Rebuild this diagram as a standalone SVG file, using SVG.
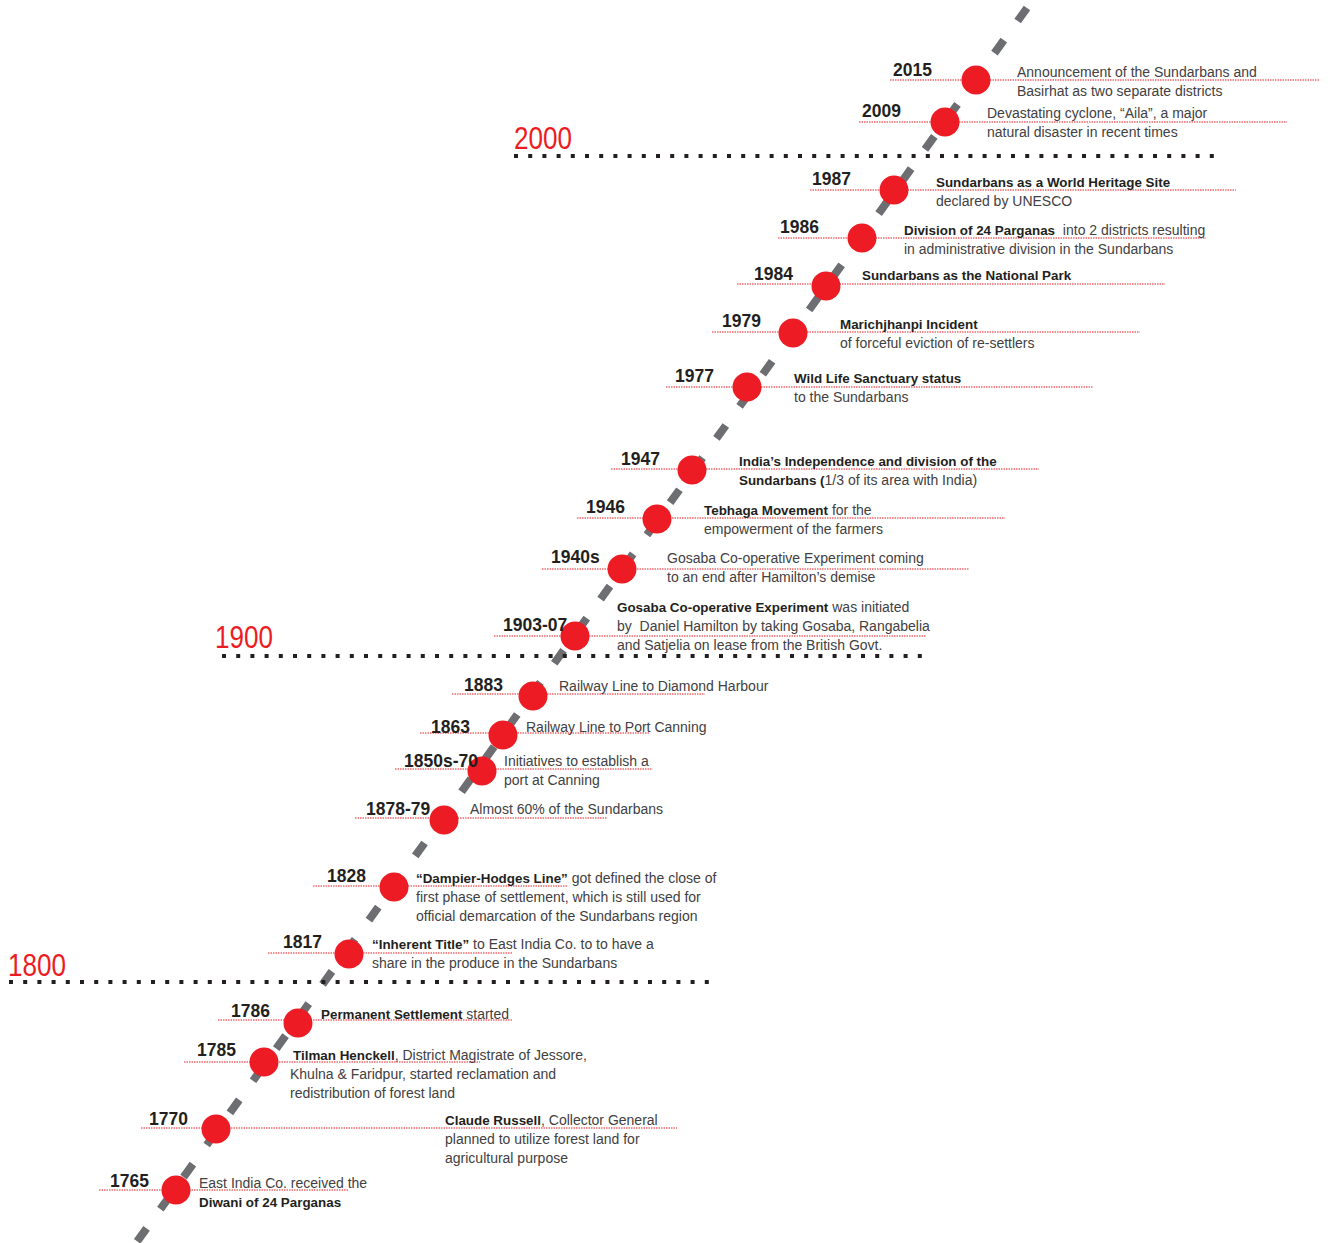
<svg xmlns="http://www.w3.org/2000/svg" width="1328" height="1243" viewBox="0 0 1328 1243">
<style>
.bg{fill:#ffffff}
.spine{stroke:#6d6e71;stroke-width:8;stroke-dasharray:16 23.6;fill:none}
.lead{stroke:#ed1c24;stroke-width:1;stroke-dasharray:1.5 1;fill:none}
.dot{fill:#ed1c24}
.era{font-family:"Liberation Sans",Arial,sans-serif;font-size:31px;fill:#ed1c24}
.divider{stroke:#231f20;stroke-width:4;stroke-dasharray:4 10.2;fill:none}
.yr{font-family:"Liberation Sans",Arial,sans-serif;font-size:17.5px;font-weight:bold;fill:#231f20}
.tx{font-family:"Liberation Sans",Arial,sans-serif;font-size:14px;fill:#414042}
.b{font-weight:bold;font-size:13.4px;fill:#231f20}
</style>
<rect class="bg" x="0" y="0" width="1328" height="1243"/>

<g id="connectors">
<line class="spine" x1="1027" y1="8" x2="136" y2="1243"/>
</g>

<g id="era-2000">
<text class="era" x="514" y="149" textLength="58" lengthAdjust="spacingAndGlyphs">2000</text>
<line class="divider" x1="514" y1="156" x2="1215" y2="156"/>
</g>
<g id="era-1900">
<text class="era" x="215" y="648" textLength="58" lengthAdjust="spacingAndGlyphs">1900</text>
<line class="divider" x1="222" y1="656" x2="922" y2="656"/>
</g>
<g id="era-1800">
<text class="era" x="8" y="976" textLength="58" lengthAdjust="spacingAndGlyphs">1800</text>
<line class="divider" x1="9" y1="982" x2="710" y2="982"/>
</g>

<g id="ev-2015">
<line class="lead" x1="890" y1="80" x2="1319" y2="80"/>
<circle class="dot" cx="976" cy="80" r="14.5"/>
<text class="yr" x="893" y="76">2015</text>
<text class="tx" x="1017" y="77">Announcement of the Sundarbans and</text>
<text class="tx" x="1017" y="96">Basirhat as two separate districts</text>
</g>

<g id="ev-2009">
<line class="lead" x1="859" y1="122" x2="1287" y2="122"/>
<circle class="dot" cx="945" cy="122" r="14.5"/>
<text class="yr" x="862" y="117">2009</text>
<text class="tx" x="987" y="118">Devastating cyclone, “Aila”, a major</text>
<text class="tx" x="987" y="137">natural disaster in recent times</text>
</g>

<g id="ev-1987">
<line class="lead" x1="810" y1="190" x2="1236" y2="190"/>
<circle class="dot" cx="894" cy="190" r="14.5"/>
<text class="yr" x="812" y="185">1987</text>
<text class="tx" x="936" y="187"><tspan class="b">Sundarbans as a World Heritage Site</tspan></text>
<text class="tx" x="936" y="206">declared by UNESCO</text>
</g>

<g id="ev-1986">
<line class="lead" x1="778" y1="238" x2="1206" y2="238"/>
<circle class="dot" cx="862" cy="238" r="14.5"/>
<text class="yr" x="780" y="233">1986</text>
<text class="tx" x="904" y="235" xml:space="preserve"><tspan class="b">Division of 24 Parganas</tspan>  into 2 districts resulting</text>
<text class="tx" x="904" y="254">in administrative division in the Sundarbans</text>
</g>

<g id="ev-1984">
<line class="lead" x1="737" y1="284" x2="1165" y2="284"/>
<circle class="dot" cx="826" cy="286" r="14.5"/>
<text class="yr" x="754" y="280">1984</text>
<text class="tx" x="862" y="280"><tspan class="b">Sundarbans as the National Park</tspan></text>
</g>

<g id="ev-1979">
<line class="lead" x1="712" y1="332" x2="1140" y2="332"/>
<circle class="dot" cx="793" cy="333" r="14.5"/>
<text class="yr" x="722" y="327">1979</text>
<text class="tx" x="840" y="329"><tspan class="b">Marichjhanpi Incident</tspan></text>
<text class="tx" x="840" y="348">of forceful eviction of re-settlers</text>
</g>

<g id="ev-1977">
<line class="lead" x1="666" y1="387" x2="1093" y2="387"/>
<circle class="dot" cx="747" cy="387" r="14.5"/>
<text class="yr" x="675" y="382">1977</text>
<text class="tx" x="794" y="383"><tspan class="b">Wild Life Sanctuary status</tspan></text>
<text class="tx" x="794" y="402">to the Sundarbans</text>
</g>

<g id="ev-1947">
<line class="lead" x1="611" y1="469" x2="1039" y2="469"/>
<circle class="dot" cx="692" cy="470" r="14.5"/>
<text class="yr" x="621" y="465">1947</text>
<text class="tx" x="739" y="466"><tspan class="b">India’s Independence and division of the</tspan></text>
<text class="tx" x="739" y="485"><tspan class="b">Sundarbans (</tspan>1/3 of its area with India)</text>
</g>

<g id="ev-1946">
<line class="lead" x1="577" y1="518" x2="1005" y2="518"/>
<circle class="dot" cx="657" cy="519" r="14.5"/>
<text class="yr" x="586" y="513">1946</text>
<text class="tx" x="704" y="515"><tspan class="b">Tebhaga Movement</tspan> for the</text>
<text class="tx" x="704" y="534">empowerment of the farmers</text>
</g>

<g id="ev-1940s">
<line class="lead" x1="542" y1="569" x2="969" y2="569"/>
<circle class="dot" cx="622" cy="569" r="14.5"/>
<text class="yr" x="551" y="563">1940s</text>
<text class="tx" x="667" y="563">Gosaba Co-operative Experiment coming</text>
<text class="tx" x="667" y="582">to an end after Hamilton’s demise</text>
</g>

<g id="ev-1903">
<line class="lead" x1="494" y1="636" x2="926" y2="636"/>
<circle class="dot" cx="575" cy="636" r="14.5"/>
<text class="yr" x="503" y="631">1903-07</text>
<text class="tx" x="617" y="612"><tspan class="b">Gosaba Co-operative Experiment</tspan> was initiated</text>
<text class="tx" x="617" y="631" xml:space="preserve">by  Daniel Hamilton by taking Gosaba, Rangabelia</text>
<text class="tx" x="617" y="650">and Satjelia on lease from the British Govt.</text>
</g>

<g id="ev-1883">
<line class="lead" x1="452" y1="694" x2="705" y2="694"/>
<circle class="dot" cx="533" cy="696" r="14.5"/>
<text class="yr" x="464" y="691">1883</text>
<text class="tx" x="559" y="691">Railway Line to Diamond Harbour</text>
</g>

<g id="ev-1863">
<line class="lead" x1="420" y1="733" x2="650" y2="733"/>
<circle class="dot" cx="503" cy="735" r="14.5"/>
<text class="yr" x="431" y="733">1863</text>
<text class="tx" x="526" y="732">Railway Line to Port Canning</text>
</g>

<g id="ev-1850s">
<line class="lead" x1="395" y1="769" x2="652" y2="769"/>
<circle class="dot" cx="482" cy="771" r="14.5"/>
<text class="yr" x="404" y="767">1850s-70</text>
<text class="tx" x="504" y="766">Initiatives to establish a</text>
<text class="tx" x="504" y="785">port at Canning</text>
</g>

<g id="ev-1878">
<line class="lead" x1="355" y1="818" x2="607" y2="818"/>
<circle class="dot" cx="444" cy="820" r="14.5"/>
<text class="yr" x="366" y="815">1878-79</text>
<text class="tx" x="470" y="814">Almost 60% of the Sundarbans</text>
</g>

<g id="ev-1828">
<line class="lead" x1="313" y1="886" x2="567" y2="886"/>
<circle class="dot" cx="394" cy="887" r="14.5"/>
<text class="yr" x="327" y="882">1828</text>
<text class="tx" x="416" y="883"><tspan class="b">“Dampier-Hodges Line”</tspan> got defined the close of</text>
<text class="tx" x="416" y="902">first phase of settlement, which is still used for</text>
<text class="tx" x="416" y="921">official demarcation of the Sundarbans region</text>
</g>

<g id="ev-1817">
<line class="lead" x1="268" y1="953" x2="513" y2="953"/>
<circle class="dot" cx="349" cy="954" r="14.5"/>
<text class="yr" x="283" y="948">1817</text>
<text class="tx" x="372" y="949"><tspan class="b">“Inherent Title”</tspan> to East India Co. to to have a</text>
<text class="tx" x="372" y="968">share in the produce in the Sundarbans</text>
</g>

<g id="ev-1786">
<line class="lead" x1="218" y1="1020" x2="512" y2="1020"/>
<circle class="dot" cx="298" cy="1023" r="14.5"/>
<text class="yr" x="231" y="1017">1786</text>
<text class="tx" x="321" y="1019"><tspan class="b">Permanent Settlement</tspan> started</text>
</g>

<g id="ev-1785">
<line class="lead" x1="184" y1="1062" x2="480" y2="1062"/>
<circle class="dot" cx="264" cy="1062" r="14.5"/>
<text class="yr" x="197" y="1056">1785</text>
<text class="tx" x="293" y="1060"><tspan class="b">Tilman Henckell</tspan>, District Magistrate of Jessore,</text>
<text class="tx" x="290" y="1079">Khulna &amp; Faridpur, started reclamation and</text>
<text class="tx" x="290" y="1098">redistribution of forest land</text>
</g>

<g id="ev-1770">
<line class="lead" x1="141" y1="1128" x2="677" y2="1128"/>
<circle class="dot" cx="216" cy="1129" r="14.5"/>
<text class="yr" x="149" y="1125">1770</text>
<text class="tx" x="445" y="1125"><tspan class="b">Claude Russell</tspan>, Collector General</text>
<text class="tx" x="445" y="1144">planned to utilize forest land for</text>
<text class="tx" x="445" y="1163">agricultural purpose</text>
</g>

<g id="ev-1765">
<line class="lead" x1="99" y1="1190" x2="348" y2="1190"/>
<circle class="dot" cx="176" cy="1190" r="14.5"/>
<text class="yr" x="110" y="1187">1765</text>
<text class="tx" x="199" y="1188">East India Co. received the</text>
<text class="tx" x="199" y="1207"><tspan class="b">Diwani of 24 Parganas</tspan></text>
</g>
</svg>
